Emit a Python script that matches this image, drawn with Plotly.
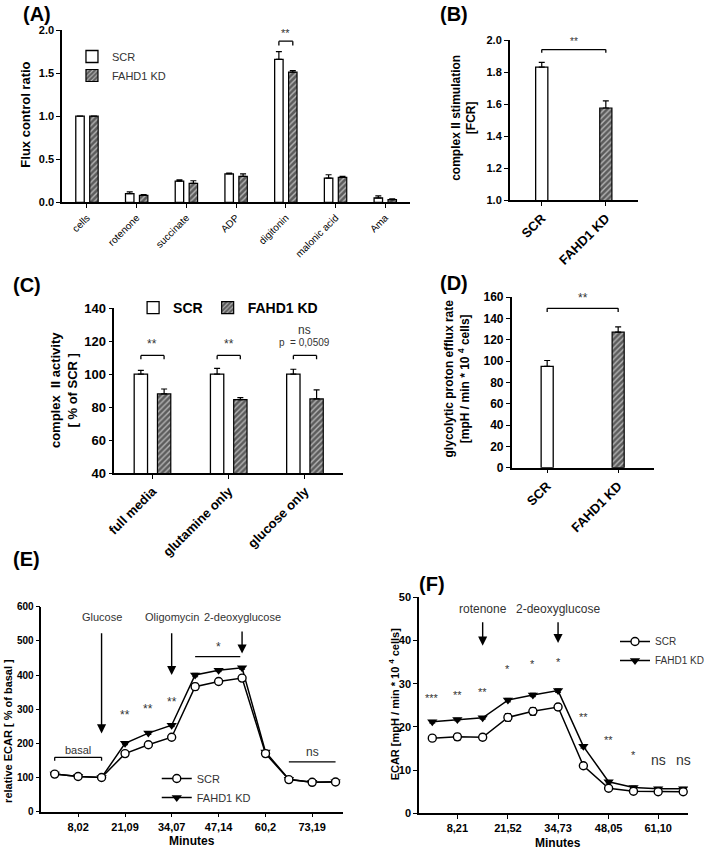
import plotly.graph_objects as go

W, H = 709, 852
FONT = "Liberation Sans, Arial, sans-serif"
TXT = "#333333"

# ---------------- data ----------------
# (A) flux control ratio
a_categories = ["cells", "rotenone", "succinate", "ADP", "digitonin", "malonic acid", "Ama"]
a_scr = [1.0, 0.10, 0.245, 0.33, 1.66, 0.28, 0.05]
a_scr_err = [0.0, 0.02, 0.015, 0.01, 0.09, 0.04, 0.025]
a_kd = [1.0, 0.08, 0.22, 0.30, 1.51, 0.29, 0.03]
a_kd_err = [0.0, 0.01, 0.03, 0.03, 0.02, 0.01, 0.01]

# (B) complex II stimulation
b_groups = ["SCR", "FAHD1 KD"]
b_values = [1.83, 1.575]
b_err = [0.03, 0.045]

# (C) complex II activity
c_categories = ["full media", "glutamine only", "glucose only"]
c_scr = [100, 100, 100]
c_scr_err = [2.3, 3.5, 3.0]
c_kd = [88, 84.5, 85]
c_kd_err = [3.0, 1.3, 5.5]
c_sig = ["**", "**", "ns"]

# (D) glycolytic proton efflux rate
d_groups = ["SCR", "FAHD1 KD"]
d_values = [95, 127]
d_err = [5.5, 5.0]

# (E) relative ECAR
e_minutes = [1.5, 8.02, 14.55, 21.09, 27.58, 34.07, 40.6, 47.14, 53.67, 60.2, 66.7, 73.19, 79.7]
e_tickvals = [8.02, 21.09, 34.07, 47.14, 60.2, 73.19]
e_ticktext = ["8,02", "21,09", "34,07", "47,14", "60,2", "73,19"]
e_scr = [110, 103, 100, 170, 196, 218, 366, 381, 391, 170, 94, 86, 87]
e_scr_err = [4, 3, 3, 5, 5, 6, 10, 6, 6, 5, 4, 4, 4]
e_kd = [110, 103, 100, 200, 230, 253, 400, 414, 421, 175, 95, 86, 88]
e_kd_err = [4, 3, 3, 4, 4, 4, 5, 4, 4, 4, 3, 3, 3]

# (F) ECAR
f_minutes = [1.6, 8.21, 14.87, 21.52, 28.1, 34.73, 41.4, 48.05, 54.6, 61.10, 67.7]
f_tickvals = [8.21, 21.52, 34.73, 48.05, 61.10]
f_ticktext = ["8,21", "21,52", "34,73", "48,05", "61,10"]
f_scr = [17.4, 17.7, 17.6, 22.2, 23.6, 24.6, 11.0, 5.8, 5.1, 5.0, 5.0]
f_scr_err = [0.4, 0.8, 0.7, 0.9, 0.9, 0.8, 0.4, 0.3, 0.3, 0.3, 0.3]
f_kd = [21.2, 21.7, 22.1, 26.2, 27.4, 28.4, 15.5, 7.3, 6.0, 5.7, 5.7]
f_kd_err = [0.3, 0.3, 0.3, 0.4, 0.4, 0.4, 0.4, 0.3, 0.3, 0.3, 0.3]
f_sig = ["***", "**", "**", "*", "*", "*", "**", "**", "*", "ns", "ns"]

# ---------------- styles ----------------
GRAY = "#5c5c5c"
SCR_MARKER = dict(color="white", line=dict(color="black", width=1.3))
KD_MARKER = dict(color=GRAY, line=dict(color="black", width=1.2),
                 pattern=dict(shape="/", fgcolor="#b5b5b5", bgcolor=GRAY,
                              size=4, solidity=0.35, fillmode="replace"))


def err(vals):
    return dict(type="data", array=vals, arrayminus=[0] * len(vals), symmetric=False,
                color="black", thickness=1.2, width=3)


def err_sym(vals):
    return dict(type="data", array=vals, color="black", thickness=1, width=3)


fig = go.Figure()

# (A)
fig.add_trace(go.Bar(x=a_categories, y=a_scr, error_y=err(a_scr_err), name="SCR",
                     marker=SCR_MARKER, width=0.17, offset=-0.225,
                     xaxis="x", yaxis="y", legend="legend"))
fig.add_trace(go.Bar(x=a_categories, y=a_kd, error_y=err(a_kd_err), name="FAHD1 KD",
                     marker=KD_MARKER, width=0.17, offset=0.055,
                     xaxis="x", yaxis="y", legend="legend"))
# (B)
fig.add_trace(go.Bar(x=b_groups[:1], y=b_values[:1], error_y=err(b_err[:1]), showlegend=False,
                     marker=SCR_MARKER, width=0.19, offset=-0.095, xaxis="x2", yaxis="y2"))
fig.add_trace(go.Bar(x=b_groups[1:], y=b_values[1:], error_y=err(b_err[1:]), showlegend=False,
                     marker=KD_MARKER, width=0.19, offset=-0.095, xaxis="x2", yaxis="y2"))
# (C)
fig.add_trace(go.Bar(x=c_categories, y=c_scr, error_y=err(c_scr_err), name="SCR",
                     marker=SCR_MARKER, width=0.175, offset=-0.24,
                     xaxis="x3", yaxis="y3", legend="legend2"))
fig.add_trace(go.Bar(x=c_categories, y=c_kd, error_y=err(c_kd_err), name="FAHD1 KD",
                     marker=KD_MARKER, width=0.175, offset=0.065,
                     xaxis="x3", yaxis="y3", legend="legend2"))
# (D)
fig.add_trace(go.Bar(x=d_groups[:1], y=d_values[:1], error_y=err(d_err[:1]), showlegend=False,
                     marker=SCR_MARKER, width=0.17, offset=-0.085, xaxis="x4", yaxis="y4"))
fig.add_trace(go.Bar(x=d_groups[1:], y=d_values[1:], error_y=err(d_err[1:]), showlegend=False,
                     marker=KD_MARKER, width=0.17, offset=-0.085, xaxis="x4", yaxis="y4"))
# (E)
fig.add_trace(go.Scatter(x=e_minutes, y=e_kd, error_y=err_sym(e_kd_err), mode="lines+markers",
                         name="FAHD1 KD", line=dict(color="black", width=1.5),
                         marker=dict(symbol="triangle-down", size=9, color="black"),
                         xaxis="x5", yaxis="y5", legend="legend3", legendrank=2))
fig.add_trace(go.Scatter(x=e_minutes, y=e_scr, error_y=err_sym(e_scr_err), mode="lines+markers",
                         name="SCR", line=dict(color="black", width=1.5),
                         marker=dict(symbol="circle", size=8, color="white",
                                     line=dict(color="black", width=1.4)),
                         xaxis="x5", yaxis="y5", legend="legend3", legendrank=1))
# (F)
fig.add_trace(go.Scatter(x=f_minutes, y=f_kd, error_y=err_sym(f_kd_err), mode="lines+markers",
                         name="FAHD1 KD", line=dict(color="black", width=1.5),
                         marker=dict(symbol="triangle-down", size=9, color="black"),
                         xaxis="x6", yaxis="y6", legend="legend4", legendrank=2))
fig.add_trace(go.Scatter(x=f_minutes, y=f_scr, error_y=err_sym(f_scr_err), mode="lines+markers",
                         name="SCR", line=dict(color="black", width=1.5),
                         marker=dict(symbol="circle", size=8, color="white",
                                     line=dict(color="black", width=1.4)),
                         xaxis="x6", yaxis="y6", legend="legend4", legendrank=1))


def px_x(p):
    return p / W


def px_y(p):
    return 1 - p / H


def axis(dom, anchor, size, weight="bold", **kw):
    d = dict(domain=dom, anchor=anchor, showline=True, linecolor="black", linewidth=1.5,
             ticks="outside", ticklen=4, tickwidth=1.3, tickcolor="black", showgrid=False,
             zeroline=False, fixedrange=True, automargin=False,
             tickfont=dict(family=FONT, size=size, color="black", weight=weight))
    d.update(kw)
    return d


fig.update_layout(
    template="none",
    width=W, height=H, margin=dict(l=0, r=0, t=0, b=0, pad=0), autosize=False,
    paper_bgcolor="white", plot_bgcolor="white", barmode="overlay",
    font=dict(family=FONT, color="black"),
    # A
    xaxis=axis([px_x(63), px_x(416)], "y", 10, weight="normal", type="category",
               range=[-0.5, 6.5], tickangle=-45),
    yaxis=axis([px_y(202.3), px_y(30)], "x", 11, range=[0, 2], dtick=0.5, tickformat=".1f"),
    # B
    xaxis2=axis([px_x(517), px_x(647)], "y2", 13, type="category", range=[-0.5, 1.5],
                tickangle=-45),
    yaxis2=axis([px_y(200), px_y(40)], "x2", 11, range=[1, 2], dtick=0.2, tickformat=".1f"),
    # C
    xaxis3=axis([px_x(116), px_x(348)], "y3", 13, type="category", range=[-0.5, 2.5],
                tickangle=-45),
    yaxis3=axis([px_y(473), px_y(308.3)], "x3", 13, range=[40, 140], dtick=20),
    # D
    xaxis4=axis([px_x(519), px_x(663)], "y4", 13, type="category", range=[-0.5, 1.5],
                tickangle=-45),
    yaxis4=axis([px_y(467.7), px_y(297)], "x4", 12, range=[0, 160], dtick=20),
    # E
    xaxis5=axis([px_x(42), px_x(348)], "y5", 11, range=[-2.2, 81.8], tickvals=e_tickvals,
                ticktext=e_ticktext),
    yaxis5=axis([px_y(811.7), px_y(606.7)], "x5", 10, range=[0, 600], dtick=100),
    # F
    xaxis6=axis([px_x(425), px_x(698)], "y6", 11, range=[-1.9, 69], tickvals=f_tickvals,
                ticktext=f_ticktext),
    yaxis6=axis([px_y(813.3), px_y(597.3)], "x6", 11, range=[0, 50], dtick=10),
    legend=dict(x=px_x(73), y=px_y(42), xanchor="left", yanchor="top",
                bgcolor="rgba(0,0,0,0)", font=dict(family=FONT, size=11, color=TXT),
                tracegroupgap=0),
    legend2=dict(x=px_x(135), y=px_y(308), xanchor="left", yanchor="middle",
                 orientation="h", bgcolor="rgba(0,0,0,0)",
                 font=dict(family=FONT, size=14, color="black", weight="bold")),
    legend3=dict(x=px_x(159), y=px_y(764), xanchor="left", yanchor="top",
                 bgcolor="rgba(0,0,0,0)", font=dict(family=FONT, size=11, color=TXT)),
    legend4=dict(x=px_x(624), y=px_y(627), xanchor="left", yanchor="top",
                 bgcolor="rgba(0,0,0,0)", font=dict(family=FONT, size=10, color=TXT)),
)

shapes = []
annots = []


def line(xr, yr, x0, y0, x1, y1, w=1.3):
    shapes.append(dict(type="line", xref=xr, yref=yr, x0=x0, y0=y0, x1=x1, y1=y1,
                       line=dict(color="black", width=w)))


def bracket(xr, yr, x0, x1, y, drop):
    line(xr, yr, x0, y, x1, y)
    line(xr, yr, x0, y, x0, y - drop)
    line(xr, yr, x1, y, x1, y - drop)


def text(xr, yr, x, y, s, size, color=TXT, bold=False, angle=0, xa="center", ya="middle"):
    annots.append(dict(xref=xr, yref=yr, x=x, y=y, text=s, showarrow=False,
                       xanchor=xa, yanchor=ya, textangle=angle,
                       font=dict(family=FONT, size=size, color=color,
                                 weight="bold" if bold else "normal")))


def ptext(cx, cy, s, size, angle=0):
    text("paper", "paper", px_x(cx), px_y(cy), s, size, color="black", bold=True, angle=angle)


def arrow(xr, yr, x, y_tail, y_tip):
    annots.append(dict(xref=xr, yref=yr, axref=xr, ayref=yr, x=x, y=y_tip, ax=x, ay=y_tail,
                       text="", showarrow=True, arrowhead=2, arrowsize=1.3, arrowwidth=1.4,
                       arrowcolor="black", standoff=0, startstandoff=0))


# panel letters
for lab, cx, cy in [("(A)", 38, 14), ("(B)", 460, 14), ("(C)", 27, 285),
                    ("(D)", 460, 283), ("(E)", 27, 559), ("(F)", 438, 584)]:
    ptext(cx, cy, lab, 20)

# axis titles
ptext(25, 115, "Flux control ratio", 13, angle=-90)
ptext(470.5, 118, "complex II stimulation<br>[FCR]", 12, angle=-90)
ptext(65, 390, "complex  II activity<br>[ % of SCR ]", 13, angle=-90)
ptext(464, 378, "glycolytic proton efflux rate<br>[mpH / min * 10 <sup>4</sup> cells]", 12,
      angle=-90)
ptext(8, 731, "relative ECAR [ % of basal ]", 11, angle=-90)
ptext(400, 704, "ECAR [mpH / min * 10 <sup>4</sup> cells]", 11, angle=-90)
ptext(195, 841, "Minutes", 12)
ptext(566, 843, "Minutes", 12)

# A significance (digitonin)
i = a_categories.index("digitonin")
bracket("x", "y", i - 0.14, i + 0.14, 1.87, 0.05)
text("x", "y", i, 1.97, "**", 11)

# B significance
bracket("x2", "y2", 0, 1, 1.94, 0.02)
text("x2", "y2", 0.5, 1.99, "**", 10)

# C significance
for i, s in enumerate(c_sig):
    bracket("x3", "y3", i - 0.152, i + 0.152, 111.4, 2.4)
    if s == "ns":
        text("x3", "y3", i, 126.7, "ns", 12)
        text("x3", "y3", i, 119.2, "p  = 0,0509", 10)
    else:
        text("x3", "y3", i, 118.3, s, 12)

# D significance
bracket("x4", "y4", 0, 1, 149.4, 3.5)
text("x4", "y4", 0.5, 159, "**", 12)

# E annotations
text("x5", "y5", e_minutes[2], 570, "Glucose", 11)
arrow("x5", "y5", e_minutes[2], 527, 229)
text("x5", "y5", e_minutes[5], 570, "Oligomycin", 11)
arrow("x5", "y5", e_minutes[5], 527, 400)
text("x5", "y5", e_minutes[8], 570, "2-deoxyglucose", 11)
arrow("x5", "y5", e_minutes[8], 532, 463)
line("x5", "y5", e_minutes[6], 454, e_minutes[8] - 0.5, 454)
text("x5", "y5", e_minutes[7], 482, "*", 12)
for k, yy in zip([3, 4, 5], [283, 300, 322]):
    text("x5", "y5", e_minutes[k], yy, "**", 12)
bracket("x5", "y5", e_minutes[0], e_minutes[2], 159, 10)
text("x5", "y5", (e_minutes[0] + e_minutes[2]) / 2, 181, "basal", 11)
line("x5", "y5", e_minutes[10], 146, e_minutes[12], 146)
text("x5", "y5", e_minutes[11], 176, "ns", 12)

# F annotations
text("x6", "y6", f_minutes[2], 47.2, "rotenone", 12)
arrow("x6", "y6", f_minutes[2], 44.6, 38.8)
text("x6", "y6", f_minutes[5], 47.2, "2-deoxyglucose", 12)
arrow("x6", "y6", f_minutes[5], 44.6, 39.4)
f_sig_y = [26.6, 27.3, 28.1, 33.5, 34.6, 35.1, 22.2, 16.9, 13.6, 12.4, 12.4]
for xm, s, yy in zip(f_minutes, f_sig, f_sig_y):
    text("x6", "y6", xm, yy, s, 14 if s == "ns" else 11)

fig.update_layout(shapes=shapes, annotations=annots)
fig.write_html("out.html", config={"displayModeBar": False},
               post_script="document.body.style.margin='0px';")
